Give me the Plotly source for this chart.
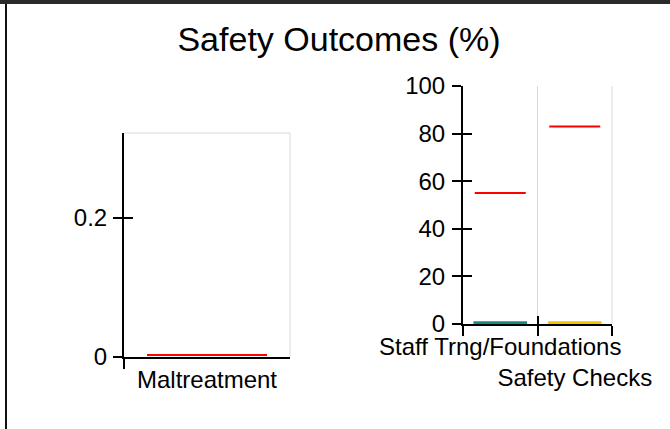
import plotly.graph_objects as go

# ---- data ----
left_categories = ["Maltreatment"]
left_values = [0]
left_targets = [0.003]

right_categories = ["Staff Trng/Foundations", "Safety Checks"]
right_labels = ["Staff Trng/Foundations", "<br>Safety Checks"]
right_values = [1.2, 1.2]
right_targets = [55, 83]

left_yticks = [0, 0.2]
right_yticks = [0, 20, 40, 60, 80, 100]

W, H = 670, 429
FONT = "Liberation Sans, Arial, sans-serif"
TICKF = dict(family=FONT, size=24, color="#000")

fig = go.Figure()

# bars
fig.add_trace(go.Bar(x=left_categories, y=left_values, width=0.72,
                     marker=dict(color="#1a8a80"), xaxis="x", yaxis="y",
                     showlegend=False, hoverinfo="skip"))
fig.add_trace(go.Bar(x=right_categories, y=right_values, width=0.72,
                     marker=dict(color=["#1a8a80", "#f2c500"]), xaxis="x2", yaxis="y2",
                     showlegend=False, hoverinfo="skip"))
# target lines (line-ew marker length = 1.4 * size)
fig.add_trace(go.Scatter(x=left_categories, y=left_targets, mode="markers",
                         marker=dict(symbol="line-ew", size=120 / 1.4,
                                     line=dict(color="#ff0000", width=2)),
                         xaxis="x", yaxis="y", showlegend=False, hoverinfo="skip"))
fig.add_trace(go.Scatter(x=right_categories, y=right_targets, mode="markers",
                         marker=dict(symbol="line-ew", size=51 / 1.4,
                                     line=dict(color="#ff0000", width=2)),
                         xaxis="x2", yaxis="y2", showlegend=False, hoverinfo="skip"))
# invisible traces for overlay axes (inner half of crossing ticks)
fig.add_trace(go.Scatter(x=left_categories, y=left_values, mode="markers",
                         marker=dict(opacity=0), xaxis="x3", yaxis="y3",
                         showlegend=False, hoverinfo="skip"))
fig.add_trace(go.Scatter(x=right_categories, y=right_values, mode="markers",
                         marker=dict(opacity=0), xaxis="x4", yaxis="y4",
                         showlegend=False, hoverinfo="skip"))

xd1 = [124 / W, 290 / W]
xd2 = [463 / W, 612 / W]
yd1 = [(H - 357) / H, (H - 133) / H]
yd2 = [(H - 324) / H, (H - 86) / H]
yr1 = [0, 0.3223]
yr2 = [0, 100]
xr1 = [-0.5, len(left_categories) - 0.5]
xr2 = [-0.5, len(right_categories) - 0.5]

def xax(domain, anchor, cats, labels, rng):
    return dict(domain=domain, anchor=anchor, type="category", range=rng,
                categoryorder="array", categoryarray=cats, automargin=False,
                tickvals=cats, ticktext=labels, tickangle=0,
                tickson="boundaries", ticks="outside", ticklen=10, tickwidth=2,
                tickcolor="#000", showline=True, linecolor="#000", linewidth=2,
                showgrid=True, gridcolor="#d8d8d8", gridwidth=1,
                tickfont=TICKF, zeroline=False, fixedrange=True)

def yax(domain, anchor, rng, ticks, standoff):
    return dict(domain=domain, anchor=anchor, range=rng, tickvals=ticks,
                automargin=False, ticklabelstandoff=standoff,
                ticks="outside", ticklen=9, tickwidth=2, tickcolor="#000",
                showline=True, linecolor="#000", linewidth=2, showgrid=False,
                zeroline=False, tickfont=TICKF, fixedrange=True)

def xover(over, anchor, cats, rng):
    return dict(overlaying=over, anchor=anchor, side="bottom", type="category",
                range=rng, automargin=False,
                categoryorder="array", categoryarray=cats, tickvals=cats,
                tickson="boundaries", ticks="inside", ticklen=8, tickwidth=2,
                tickcolor="#000", showticklabels=False, showgrid=False,
                showline=False, zeroline=False, fixedrange=True)

def yover(over, anchor, rng, ticks):
    return dict(overlaying=over, anchor=anchor, side="left", range=rng,
                automargin=False,
                tickvals=ticks, ticks="inside", ticklen=9, tickwidth=2,
                tickcolor="#000", showticklabels=False, showgrid=False,
                showline=False, zeroline=False, fixedrange=True)

GRID = dict(color="#d8d8d8", width=1)

fig.update_layout(
    template="none",
    width=W, height=H, autosize=False,
    margin=dict(l=0, r=0, t=0, b=0, pad=0),
    paper_bgcolor="#ffffff", plot_bgcolor="rgba(0,0,0,0)",
    font=dict(family=FONT, color="#000"),
    title=dict(text="Safety Outcomes (%)", x=339 / W, xanchor="center",
               y=1 - 39 / H, yanchor="middle", automargin=False,
               font=dict(family=FONT, size=34, color="#000")),
    xaxis=xax(xd1, "y", left_categories, left_categories, xr1),
    yaxis=yax(yd1, "x", yr1, left_yticks, 1),
    xaxis2=xax(xd2, "y2", right_categories, right_labels, xr2),
    yaxis2=yax(yd2, "x2", yr2, right_yticks, 2),
    xaxis3=xover("x", "y3", left_categories, xr1),
    yaxis3=yover("y", "x3", yr1, left_yticks),
    xaxis4=xover("x2", "y4", right_categories, xr2),
    yaxis4=yover("y2", "x4", yr2, right_yticks),
    bargap=0.28,
    showlegend=False,
    hovermode=False,
    shapes=[
        # grey frame lines (top/right of left panel, right of right panel)
        dict(type="line", xref="x domain", yref="y domain", x0=0, x1=1, y0=1, y1=1,
             line=GRID, layer="below"),
        dict(type="line", xref="x domain", yref="y domain", x0=1, x1=1, y0=0, y1=1,
             line=GRID, layer="below"),
        dict(type="line", xref="x2 domain", yref="y2 domain", x0=1, x1=1, y0=0, y1=1,
             line=GRID, layer="below"),
        # page border: top band and left line
        dict(type="rect", xref="paper", yref="paper", x0=0, x1=1,
             y0=1 - 4 / H, y1=1, fillcolor="#2a2a2a", line=dict(width=0)),
        dict(type="rect", xref="paper", yref="paper", x0=5 / W, x1=7 / W,
             y0=0, y1=1 - 4 / H, fillcolor="#111111", line=dict(width=0)),
    ],
)

fig.write_html("out.html",
               config={"displayModeBar": False, "staticPlot": True},
               post_script="document.body.style.margin='0';document.body.style.overflow='hidden';")
